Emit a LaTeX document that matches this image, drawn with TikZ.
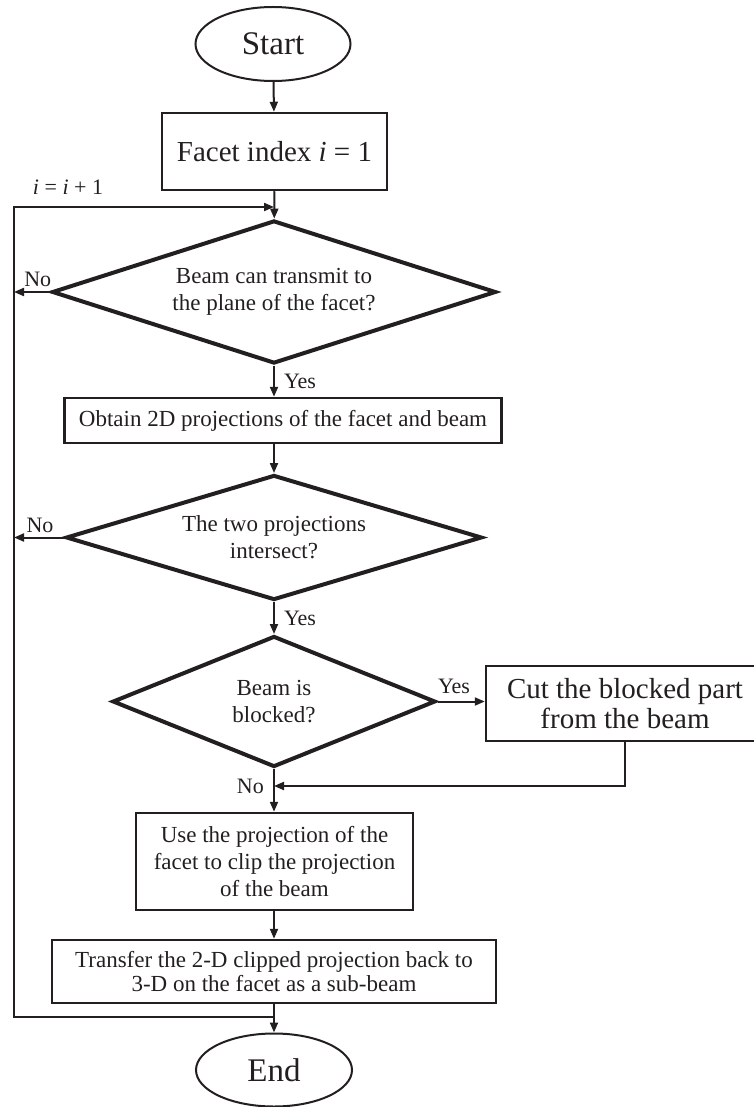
\documentclass[tikz,border=0pt]{standalone}
\usepackage{tikz}
\usetikzlibrary{shapes.geometric, arrows.meta, calc}
\usepackage{fontspec}
\setmainfont{Liberation Serif}
\definecolor{inkcolor}{HTML}{231F20}

\begin{document}
\begin{tikzpicture}[x=1pt, y=-1pt,
    every node/.style={text=inkcolor, font=\fontsize{23}{27}\selectfont},
    flowline/.style={draw=inkcolor, line width=2pt, -{Triangle[length=10pt, width=8pt]}},
    procbox/.style={draw=inkcolor, line width=2.5pt, rectangle, align=center, inner sep=0pt},
    decision/.style={draw=inkcolor, line width=4pt, diamond, aspect=3, inner sep=0pt, align=center},
    terminal/.style={draw=inkcolor, line width=2pt, ellipse, inner sep=0pt, font=\fontsize{33}{40}\selectfont},
    edgelabel/.style={font=\fontsize{22}{26}\selectfont, inner sep=0pt}]
    \useasboundingbox (0, 0) rectangle (754, 1107);
    \clip (0, 0) rectangle (754, 1107);
    % Start and first facet
    \node[terminal, minimum width=155pt, minimum height=74pt] (start) at (273, 44) {Start};
    \node[procbox, minimum width=225pt, minimum height=77pt, font=\fontsize{29}{34}\selectfont] (init) at (274.5, 151.5) {Facet index \textit{i} = 1};
    % Decisions and steps
    \node[decision, minimum width=444pt, minimum height=143pt] (transmit) at (274, 292) {Beam can transmit to\\the plane of the facet?};
    \node[procbox, minimum width=437pt, minimum height=45pt] (project) at (283, 420.5) {Obtain 2D projections of the facet and beam};
    \node[decision, minimum width=416pt, minimum height=125pt] (overlap) at (274, 537.5) {The two projections\\intersect?};
    \node[decision, minimum width=323pt, minimum height=131pt] (blocked) at (274, 701.5) {Beam is\\blocked?};
    \node[procbox, minimum width=278pt, minimum height=75pt, font=\fontsize{29}{30}\selectfont] (cut) at (625, 703.5) {Cut the blocked part\\from the beam};
    \node[procbox, minimum width=277pt, minimum height=97pt] (clipproj) at (274.5, 861.5) {Use the projection of the\\facet to clip the projection\\of the beam};
    \node[procbox, minimum width=444pt, minimum height=63pt, font=\fontsize{23}{24}\selectfont] (transfer) at (274, 971.5) {Transfer the 2-D clipped projection back to\\3-D on the facet as a sub-beam};
    % End
    \node[terminal, minimum width=156pt, minimum height=73pt] (end) at (274, 1070) {End};
    % Loop rail
    \coordinate (loopin) at (274, 207);
    \coordinate (loopout) at (274, 1017);
    \coordinate (railtop) at (14, 207);
    \coordinate (railbot) at (14, 1017);
    \coordinate (merge) at (274, 786);
    % Connectors
    \draw[flowline] (start) -- (init);
    \draw[flowline] (init) -- (transmit);
    \draw[flowline] (transmit.west) -- node[edgelabel, pos=0.34, above=4pt] (no1) {No} (transmit.west -| railtop);
    \draw[flowline] (transmit.south) -- node[edgelabel, right=9pt] (yes1) {Yes} (transmit.south |- project.north);
    \draw[flowline] (overlap.north |- project.south) -- (overlap.north);
    \draw[flowline] (overlap.west) -- node[edgelabel, pos=0.48, above=4pt] (no2) {No} (overlap.west -| railtop);
    \draw[flowline] (overlap.south) -- node[edgelabel, right=9pt] (yes2) {Yes} (blocked.north);
    \draw[flowline] (blocked.east) -- node[edgelabel, pos=0.35, above=7pt] (yes3) {Yes} (cut.west |- blocked.east);
    \draw[flowline] (cut.south) |- (merge);
    \node[edgelabel, left=10pt] (no3) at (merge) {No};
    \draw[flowline] (blocked.south) -- (blocked.south |- clipproj.north);
    \draw[flowline] (clipproj.south -| transfer.north) -- (transfer.north);
    \draw[flowline] (transfer) -- (end);
    \draw[flowline] (loopout) -- (railbot) -- (railtop) -- (loopin);
    \node[edgelabel] (incr) at (68, 187) {\textit{i} = \textit{i} + 1};
\end{tikzpicture}
\end{document}
